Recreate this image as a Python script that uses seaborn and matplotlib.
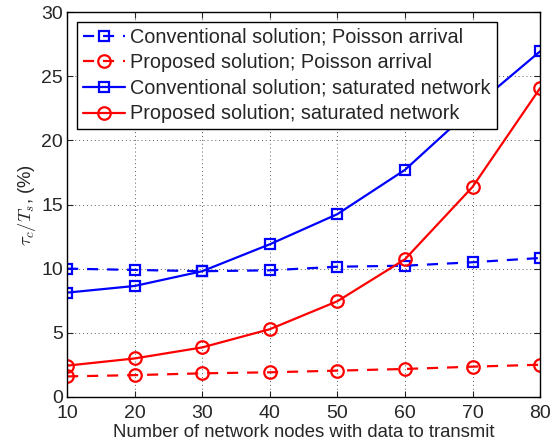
import pandas as pd
import matplotlib
matplotlib.use('Agg')
import matplotlib.pyplot as plt
import seaborn as sns

# Data
nodes = [10, 20, 30, 40, 50, 60, 70, 80]
conv_poisson = [10.0, 9.9, 9.8, 9.87, 10.15, 10.23, 10.5, 10.83]
prop_poisson = [1.6, 1.7, 1.84, 1.92, 2.05, 2.18, 2.36, 2.51]
conv_saturated = [8.13, 8.65, 9.8, 11.9, 14.25, 17.7, 22.5, 26.94]
prop_saturated = [2.44, 3.0, 3.86, 5.28, 7.46, 10.73, 16.37, 24.07]

labels = ["Conventional solution; Poisson arrival",
          "Proposed solution; Poisson arrival",
          "Conventional solution; saturated network",
          "Proposed solution; saturated network"]

sns.set_style('ticks')
plt.rcParams['font.family'] = ['Liberation Sans', 'DejaVu Sans']
plt.rcParams['mathtext.fontset'] = 'cm'

fig = plt.figure(figsize=(5.5, 4.47), dpi=100)
ax = fig.add_axes([0.122, 0.112, 0.86, 0.861])

# (values, label, color, linestyle, marker, markersize)
series = [
    (conv_poisson, labels[0], 'blue', (0, (5, 4)), 's', 7.5),
    (prop_poisson, labels[1], 'red', (0, (5, 4)), 'o', 9),
    (conv_saturated, labels[2], 'blue', '-', 's', 7.5),
    (prop_saturated, labels[3], 'red', '-', 'o', 9),
]

for vals, lab, col, ls, mk, ms in series:
    df = pd.DataFrame({'nodes': nodes, 'value': vals})
    sns.lineplot(data=df, x='nodes', y='value', ax=ax, color=col,
                 linestyle=ls, linewidth=1.6, marker=mk, markersize=ms,
                 markerfacecolor='none', markeredgecolor=col,
                 markeredgewidth=1.6, label=lab)

ax.set_xlim(10, 80)
ax.set_ylim(0, 30)
ax.set_xticks(nodes)
ax.set_yticks([0, 5, 10, 15, 20, 25, 30])
ax.tick_params(direction='in', top=True, right=True, labelsize=14, length=4)
ax.tick_params(axis='x', pad=6)
ax.tick_params(axis='y', pad=3)
ax.grid(True, linestyle=(0, (1, 3)), color='0.35', linewidth=0.7)
for sp in ax.spines.values():
    sp.set_linewidth(1.0)
    sp.set_color('black')

ax.set_xlabel('Number of network nodes with data to transmit', fontsize=13.3, labelpad=1.5)
ax.set_ylabel(r'$\tau_c/T_s$, (%)', fontsize=13.3, labelpad=2)

leg = ax.legend(loc='upper left', bbox_to_anchor=(0.008, 0.99), fontsize=14.3,
                fancybox=False, framealpha=1, edgecolor='black',
                handlelength=2.1, borderaxespad=0.3, labelspacing=0.33,
                handletextpad=0.3, borderpad=0.3)
leg.get_frame().set_linewidth(1.0)

fig.savefig('out.png', dpi=100)
